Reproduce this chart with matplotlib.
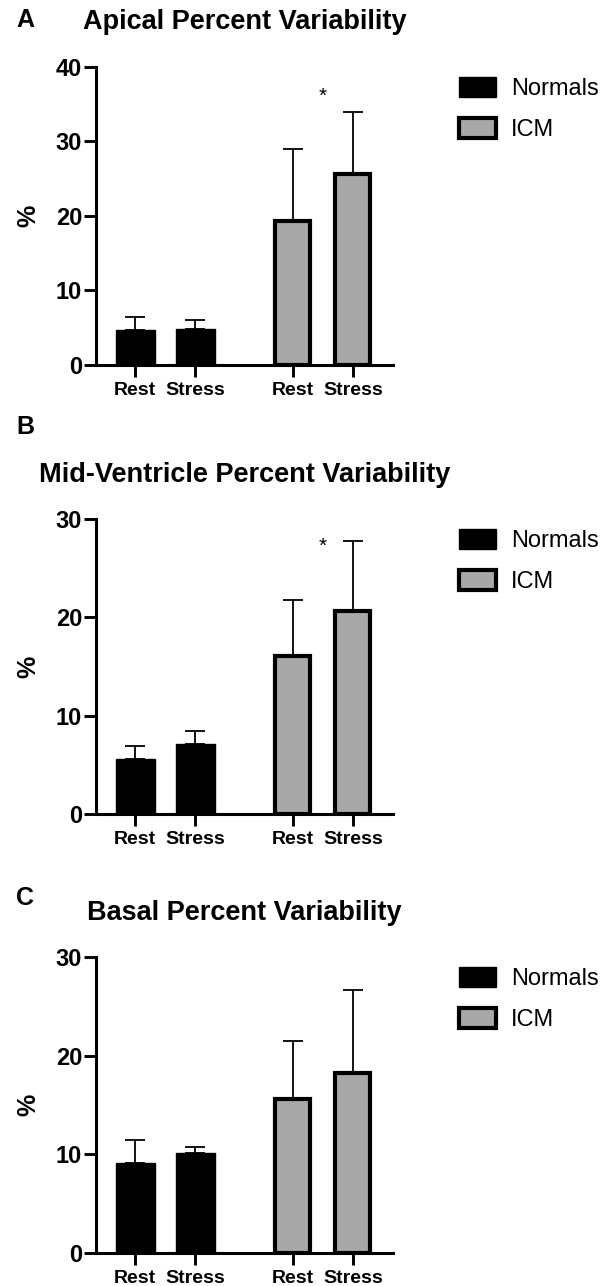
import matplotlib
matplotlib.use("Agg")
import matplotlib.pyplot as plt
import numpy as np

plt.rcParams["font.family"] = ["Liberation Sans", "DejaVu Sans"]

# data (mean and upper SD)
conditions = ["Rest", "Stress", "Rest", "Stress"]
groups = ["Normals", "ICM"]
titles = ["Apical Percent Variability", "Mid-Ventricle Percent Variability", "Basal Percent Variability"]
letters = ["A", "B", "C"]
yMax = [40, 30, 30]

apicalNormals = [4.7, 4.8]
apicalNormalsSd = [1.8, 1.25]
apicalIcm = [19.3, 25.6]
apicalIcmSd = [9.75, 8.4]

midNormals = [5.6, 7.1]
midNormalsSd = [1.3, 1.3]
midIcm = [16.05, 20.6]
midIcmSd = [5.75, 7.2]

basalNormals = [9.15, 10.15]
basalNormalsSd = [2.3, 0.6]
basalIcm = [15.65, 18.25]
basalIcmSd = [5.85, 8.45]

starY = [36.0, 27.2, None]

panels = [
    (apicalNormals, apicalNormalsSd, apicalIcm, apicalIcmSd),
    (midNormals, midNormalsSd, midIcm, midIcmSd),
    (basalNormals, basalNormalsSd, basalIcm, basalIcmSd),
]

figW, figH = 613, 1286
fig = plt.figure(figsize=(figW / 100, figH / 100), dpi=100)

# axes boxes in pixels: (zero line y, top line y)
axBoxes = [(365, 67), (814, 519), (1253, 957)]
letterY = [20, 427, 898]
axLeft, axRight = 96, 393

xNormals = np.array([0.0, 1.0])
xIcm = np.array([2.63, 3.63])
gray = "#a8a8a8"

for i, (nMean, nSd, iMean, iSd) in enumerate(panels):
    y0, y1 = axBoxes[i]
    ax = fig.add_axes([axLeft / figW, 1 - y0 / figH, (axRight - axLeft) / figW, (y0 - y1) / figH])

    bN = ax.bar(xNormals, nMean, width=0.65, color="black", edgecolor="black", linewidth=1, zorder=3, label=groups[0])
    bI = ax.bar(xIcm, iMean, width=0.58, color=gray, edgecolor="black", linewidth=3, zorder=3, label=groups[1])
    ax.errorbar(xNormals, nMean, yerr=[np.zeros(2), nSd], fmt="none", ecolor="black",
                elinewidth=1.3, capsize=7, capthick=1.3, zorder=2)
    ax.errorbar(xIcm, iMean, yerr=[np.zeros(2), iSd], fmt="none", ecolor="black",
                elinewidth=1.3, capsize=7, capthick=1.3, zorder=2)

    if starY[i] is not None:
        ax.text(3.12, starY[i], "*", ha="center", va="center", fontsize=15)

    ax.set_xlim(-0.65, 4.3)
    ax.set_ylim(0, yMax[i])
    ax.set_yticks(np.arange(0, yMax[i] + 1, 10))
    ax.set_xticks(np.concatenate([xNormals, xIcm]))
    ax.set_xticklabels(conditions, fontsize=14, fontweight="bold")
    for lab in ax.get_yticklabels():
        lab.set_fontsize(17)
        lab.set_fontweight("bold")
    ax.tick_params(axis="both", length=8.5, width=2.1, color="black")
    ax.tick_params(axis="x", pad=3.5)
    ax.tick_params(axis="y", pad=1.5)
    for side in ["top", "right"]:
        ax.spines[side].set_visible(False)
    for side in ["left", "bottom"]:
        ax.spines[side].set_linewidth(2.2)

    ax.text(-0.229, 0.5, "%", rotation=90, ha="center", va="center",
            fontsize=18, fontweight="bold", transform=ax.transAxes)
    ax.set_title(titles[i], fontsize=19.5, fontweight="bold", pad=27)
    fig.text(25 / figW, 1 - letterY[i] / figH, letters[i], ha="center", va="center",
             fontsize=18, fontweight="bold")

    ax.legend(handles=[bN, bI], loc="upper left",
              bbox_to_anchor=(459 / figW, 1 - (y1 + 10) / figH), bbox_transform=fig.transFigure,
              frameon=False, fontsize=17, handlelength=1.55, handleheight=0.9,
              handletextpad=0.65, labelspacing=0.78, borderpad=0, borderaxespad=0)

fig.savefig("out.png", dpi=100)
